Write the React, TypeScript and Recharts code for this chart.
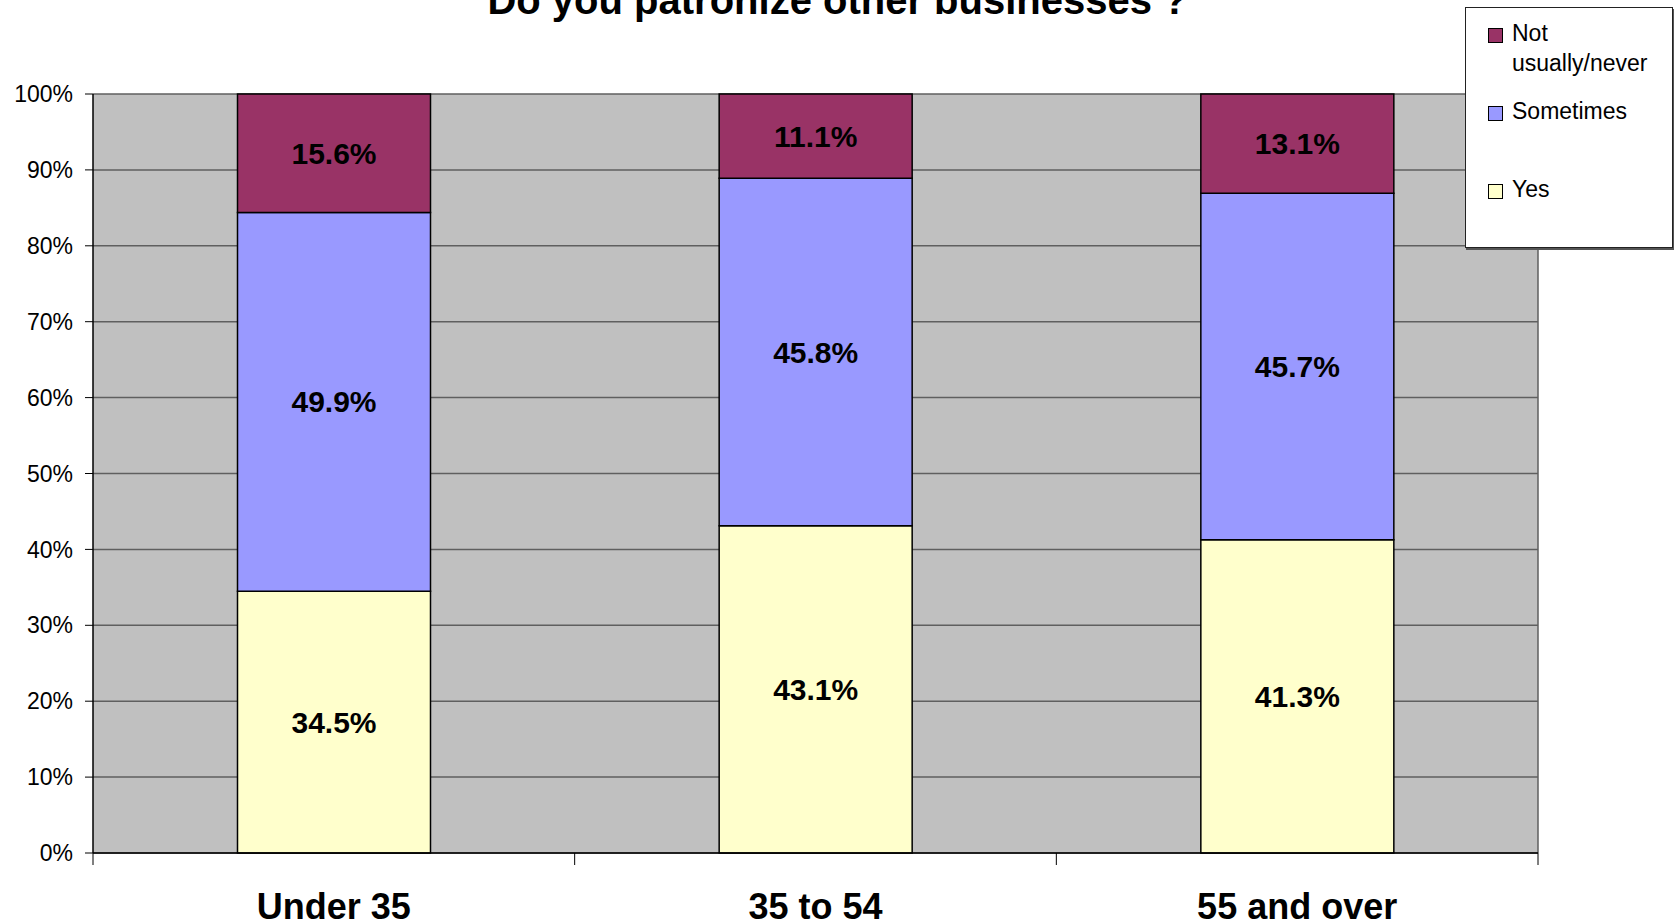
import { Bar, BarChart, CartesianGrid, LabelList, XAxis, YAxis } from "recharts";

const CATEGORIES = ["Under 35", "35 to 54", "55 and over"];
const YES = [34.5, 43.1, 41.3];
const SOMETIMES = [49.9, 45.8, 45.7];
const NOT_USUALLY = [15.6, 11.1, 13.1];
const Y_TICKS = [0, 0.1, 0.2, 0.3, 0.4, 0.5, 0.6, 0.7, 0.8, 0.9, 1];

const SERIES = [
  { key: "notUsually", name: "Not usually/never", color: "#993366" },
  { key: "sometimes", name: "Sometimes", color: "#9999FF" },
  { key: "yes", name: "Yes", color: "#FFFFCC" },
];

const FONT = '"Liberation Sans", Arial, sans-serif';
const W = 1677;
const H = 923;
const PLOT_LEFT = 93;
const PLOT_RIGHT = 1538;
const STEP = (PLOT_RIGHT - PLOT_LEFT) / CATEGORIES.length;

const data = CATEGORIES.map((name, i) => ({
  name,
  yes: YES[i],
  sometimes: SOMETIMES[i],
  notUsually: NOT_USUALLY[i],
}));

function CategoryTick(props: any) {
  const { x, y, payload, index } = props;
  const last = index === CATEGORIES.length - 1;
  return (
    <g>
      <line x1={x - STEP / 2} y1={y} x2={x - STEP / 2} y2={y + 12} stroke="#000" />
      {last && <line x1={x + STEP / 2} y1={y} x2={x + STEP / 2} y2={y + 12} stroke="#000" />}
      <text x={x} y={y + 66} textAnchor="middle" fontFamily={FONT} fontWeight="bold" fontSize={36} fill="#000">
        {payload.value}
      </text>
    </g>
  );
}

function LegendBox() {
  return (
    <div
      style={{
        position: "absolute",
        left: 1465,
        top: 7,
        width: 208,
        height: 241,
        boxSizing: "border-box",
        border: "1px solid #222",
        boxShadow: "1px 2px 0 #555",
        background: "#fff",
        fontFamily: FONT,
        fontSize: 23,
        lineHeight: "30px",
        color: "#000",
      }}
    >
      {SERIES.map((s) => (
        <div key={s.key} style={{ height: 78, paddingTop: 10, boxSizing: "border-box", display: "flex" }}>
          <div
            style={{
              width: 13,
              height: 13,
              marginLeft: 22,
              marginTop: 10,
              marginRight: 9,
              background: s.color,
              border: "1px solid #000",
              flex: "none",
            }}
          />
          <div style={{ width: 150 }}>{s.name}</div>
        </div>
      ))}
    </div>
  );
}

const labelStyle = { fontFamily: FONT, fontWeight: "bold" as const, fontSize: 30, fill: "#000" };
const pct = (v: any) => `${Number(v).toFixed(1)}%`;

export default function App() {
  return (
    <div style={{ position: "absolute", left: 0, top: 0, width: W, height: H, background: "#fff" }}>
      <div
        style={{
          position: "absolute",
          left: 0,
          width: W - 2,
          top: 13 - 35,
          textAlign: "center",
          fontFamily: FONT,
          fontWeight: "bold",
          fontSize: 40,
          lineHeight: "45px",
          color: "#000",
          zIndex: 2,
        }}
      >
        Do you patronize other businesses ?
      </div>
      <BarChart
        width={W}
        height={H}
        data={data}
        stackOffset="expand"
        barCategoryGap="30%"
        margin={{ top: 94, right: W - PLOT_RIGHT, bottom: 0, left: 0 }}
      >
        <CartesianGrid
          fill="#C0C0C0"
          stroke="#5f5f5f"
          strokeWidth={1.5}
          vertical={true}
          verticalPoints={[PLOT_RIGHT]}
        />
        <XAxis
          dataKey="name"
          height={70}
          axisLine={{ stroke: "#000", strokeWidth: 1.5 }}
          tickLine={false}
          tickSize={0}
          tickMargin={0}
          interval={0}
          tick={<CategoryTick />}
        />
        <YAxis
          width={PLOT_LEFT}
          domain={[0, 1]}
          ticks={Y_TICKS}
          tickFormatter={(v: number) => `${Math.round(v * 100)}%`}
          axisLine={{ stroke: "#000", strokeWidth: 1.5 }}
          tickLine={{ stroke: "#000" }}
          tickSize={8}
          tickMargin={12}
          tick={{ fontFamily: FONT, fontSize: 23, fill: "#000" }}
        />
        {[...SERIES].reverse().map((s) => (
          <Bar
            key={s.key}
            dataKey={s.key}
            name={s.name}
            stackId="a"
            fill={s.color}
            stroke="#000"
            strokeWidth={1.5}
            isAnimationActive={false}
          >
            <LabelList dataKey={s.key} position="center" formatter={pct} style={labelStyle} />
          </Bar>
        ))}
      </BarChart>
      <LegendBox />
    </div>
  );
}
